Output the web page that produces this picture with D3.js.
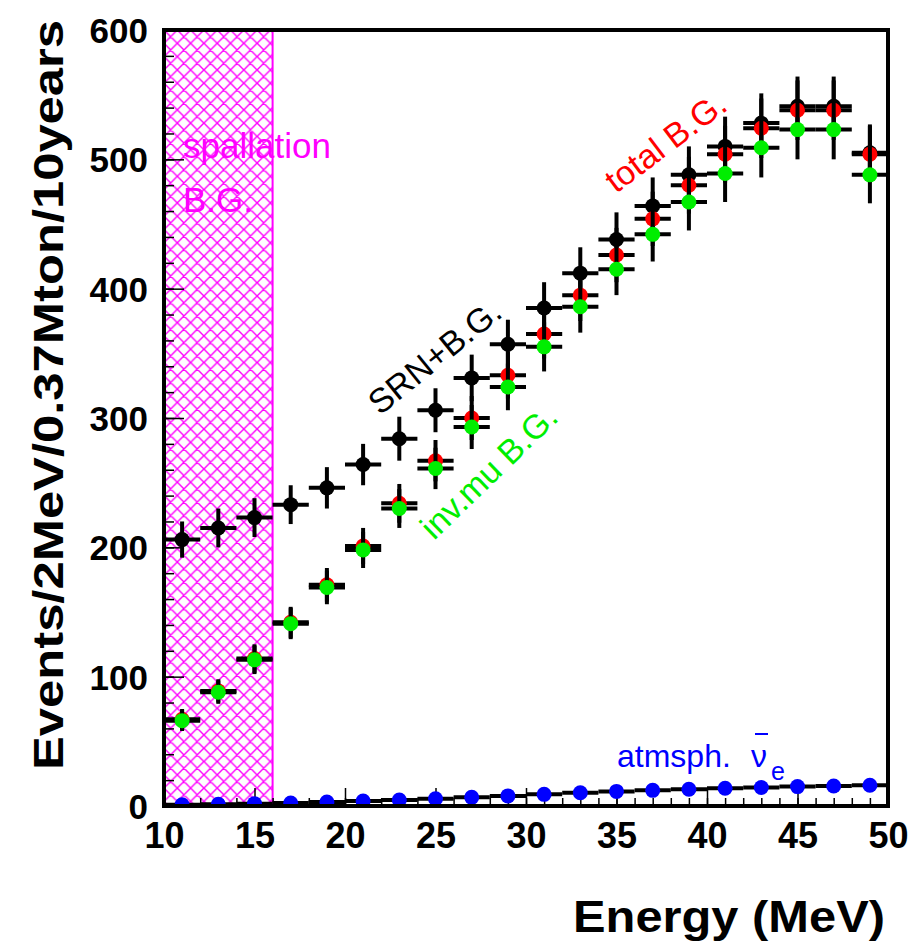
<!DOCTYPE html>
<html>
<head>
<meta charset="utf-8">
<script src="https://cdn.jsdelivr.net/npm/d3@7"></script>
<style>
  html, body { margin: 0; padding: 0; background: #fff; }
  svg { display: block; }
</style>
</head>
<body>
<div id="chart"></div>
<script>
// ---------- data ----------
const energy = [11, 13, 15, 17, 19, 21, 23, 25, 27, 29, 31, 33, 35, 37, 39, 41, 43, 45, 47, 49];
const srnPlusBG = [206, 215, 223, 233, 246, 264, 284, 306, 331, 357, 385, 412, 438, 464, 488, 510, 528, 541, 541, 505];
const srnErr    = [14, 15, 15, 15, 16, 16, 17, 17, 18, 19, 20, 20, 21, 22, 22, 23, 23, 23, 23, 22];
const totalBG   = [67, 89, 114, 142, 171, 201, 234, 267, 300, 333, 365, 395, 426, 454, 480, 504, 524, 538, 538, 504];
const totalErr  = [8, 9, 11, 12, 13, 14, 15, 16, 17, 18, 19, 20, 21, 21, 22, 22, 23, 23, 23, 22];
const invMuBG   = [66, 88, 113, 141, 169, 198, 230, 261, 293, 324, 355, 386, 415, 442, 467, 489, 509, 523, 523, 488];
const invMuErr  = [8, 9, 11, 12, 13, 14, 15, 16, 17, 18, 19, 20, 20, 21, 22, 22, 23, 23, 23, 22];
const atmNuE    = [1, 1.3, 1.8, 2.3, 3, 3.8, 4.6, 5.6, 6.7, 7.8, 9, 10.3, 11.3, 12.1, 12.9, 13.7, 14.3, 15, 15.5, 16];
const binHalfWidth = 1;
const spallationRange = [10, 16];
const xTicks = [10, 15, 20, 25, 30, 35, 40, 45, 50];
const yTicks = [0, 100, 200, 300, 400, 500, 600];
const xDomain = [10, 50];
const yDomain = [0, 600];

// ---------- layout ----------
const W = 916, H = 945;
const L = 164, R = 888, T = 30, B = 806;
const font = "'Liberation Sans', Arial, Helvetica, sans-serif";

const svg = d3.select("#chart").append("svg")
  .attr("width", W).attr("height", H)
  .attr("viewBox", `0 0 ${W} ${H}`);

const x = d3.scaleLinear().domain(xDomain).range([L, R]);
const y = d3.scaleLinear().domain(yDomain).range([B, T]);

const defs = svg.append("defs");
const pat = defs.append("pattern")
  .attr("id", "hatch").attr("patternUnits", "userSpaceOnUse")
  .attr("width", 13.3).attr("height", 13.3)
  .attr("x", L).attr("y", T);
pat.append("path").attr("d", "M0,0 L13.3,13.3 M13.3,0 L0,13.3 M-1,12.3 L1,14.3 M12.3,-1 L14.3,1 M-1,1 L1,-1 M12.3,14.3 L14.3,12.3")
  .attr("stroke", "#ff00ff").attr("stroke-width", 1.4).attr("fill", "none");

defs.append("clipPath").attr("id", "plotclip")
  .append("rect").attr("x", L).attr("y", T).attr("width", R - L).attr("height", B - T);

// spallation hatched region
svg.append("rect")
  .attr("x", x(spallationRange[0])).attr("y", T)
  .attr("width", x(spallationRange[1]) - x(spallationRange[0]))
  .attr("height", B - T)
  .attr("fill", "url(#hatch)");
svg.append("line")
  .attr("x1", x(spallationRange[1])).attr("x2", x(spallationRange[1]))
  .attr("y1", T).attr("y2", B)
  .attr("stroke", "#ff00ff").attr("stroke-width", 2);

// ---------- axes (ticks inside) ----------
const gx = svg.append("g").attr("transform", `translate(0,${B})`);
gx.call(d3.axisBottom(x).tickValues(d3.range(10, 51, 1)).tickSize(-8).tickFormat(""));
gx.call(g => g.select(".domain").remove());
const gxM = svg.append("g").attr("transform", `translate(0,${B})`);
gxM.call(d3.axisBottom(x).tickValues(xTicks).tickSize(-18).tickPadding(12).tickFormat(d3.format("d")));
gxM.select(".domain").remove();
gxM.selectAll("text").attr("font-family", font).attr("font-weight", "bold")
  .attr("font-size", 36).attr("fill", "#000").attr("dy", null).attr("y", 42);

const gy = svg.append("g").attr("transform", `translate(${L},0)`);
gy.call(d3.axisLeft(y).tickValues(d3.range(0, 601, 20)).tickSize(-10).tickFormat(""));
gy.select(".domain").remove();
const gyM = svg.append("g").attr("transform", `translate(${L},0)`);
gyM.call(d3.axisLeft(y).tickValues(yTicks).tickSize(-20).tickFormat(d3.format("d")));
gyM.select(".domain").remove();
gyM.selectAll("text").attr("font-family", font).attr("font-weight", "bold")
  .attr("font-size", 35).attr("fill", "#000").attr("x", -16).attr("dy", "0.36em");
svg.selectAll(".tick line").attr("stroke", "#000").attr("stroke-width", 1.5);

// ---------- data series ----------
const plot = svg.append("g").attr("clip-path", "url(#plotclip)");

function drawSeries(vals, errs, color, r) {
  const g = plot.append("g");
  const pts = energy.map((e, i) => ({e, v: vals[i], err: errs ? errs[i] : 0}));
  g.selectAll("line.h").data(pts).join("line")
    .attr("x1", d => x(d.e - binHalfWidth)).attr("x2", d => x(d.e + binHalfWidth))
    .attr("y1", d => y(d.v)).attr("y2", d => y(d.v))
    .attr("stroke", "#000").attr("stroke-width", 4);
  if (errs) {
    g.selectAll("line.v").data(pts).join("line")
      .attr("x1", d => x(d.e)).attr("x2", d => x(d.e))
      .attr("y1", d => y(d.v - d.err)).attr("y2", d => y(d.v + d.err))
      .attr("stroke", "#000").attr("stroke-width", 4);
  }
  g.selectAll("circle").data(pts).join("circle")
    .attr("cx", d => x(d.e)).attr("cy", d => y(d.v)).attr("r", r)
    .attr("fill", color);
}
drawSeries(srnPlusBG, srnErr, "#000", 7.5);
drawSeries(totalBG, totalErr, "#ff0000", 7.5);
drawSeries(invMuBG, invMuErr, "#00ee00", 7.5);
drawSeries(atmNuE, null, "#0000ff", 7.5);

// frame
svg.append("rect").attr("x", L).attr("y", T).attr("width", R - L).attr("height", B - T)
  .attr("fill", "none").attr("stroke", "#000").attr("stroke-width", 4);

// ---------- annotations ----------
const ann = svg.append("g").attr("font-family", font);
ann.append("text").attr("x", 183).attr("y", 158).attr("font-size", 35).attr("fill", "#ff00ff").text("spallation");
ann.append("text").attr("x", 183).attr("y", 212).attr("font-size", 35).attr("fill", "#ff00ff").text("B.G.");
ann.append("text").attr("transform", "translate(380,416) rotate(-39)")
  .attr("font-size", 34).attr("fill", "#000").text("SRN+B.G.");
ann.append("text").attr("transform", "translate(434,541) rotate(-44)")
  .attr("font-size", 34).attr("fill", "#00ee00").text("inv.mu B.G.");
ann.append("text").attr("transform", "translate(616,194) rotate(-37)")
  .attr("font-size", 34).attr("fill", "#ff0000").text("total B.G.");

ann.append("text").attr("x", 617).attr("y", 767).attr("font-size", 32).attr("fill", "#0000ff").text("atmsph.");
ann.append("text").attr("x", 751).attr("y", 767).attr("font-size", 32).attr("fill", "#0000ff").text("ν");
ann.append("line").attr("x1", 755).attr("x2", 768).attr("y1", 734).attr("y2", 734)
  .attr("stroke", "#0000ff").attr("stroke-width", 2);
ann.append("text").attr("x", 771).attr("y", 780).attr("font-size", 25).attr("fill", "#0000ff").text("e");

// axis titles
svg.append("text").attr("x", 885).attr("y", 932).attr("text-anchor", "end")
  .attr("font-family", font).attr("font-weight", "bold").attr("font-size", 44)
  .attr("textLength", 312).attr("lengthAdjust", "spacingAndGlyphs")
  .text("Energy (MeV)");
svg.append("text").attr("transform", "translate(63,770) rotate(-90)")
  .attr("font-family", font).attr("font-weight", "bold").attr("font-size", 43)
  .attr("textLength", 750).attr("lengthAdjust", "spacingAndGlyphs")
  .text("Events/2MeV/0.37Mton/10years");
</script>
</body>
</html>
